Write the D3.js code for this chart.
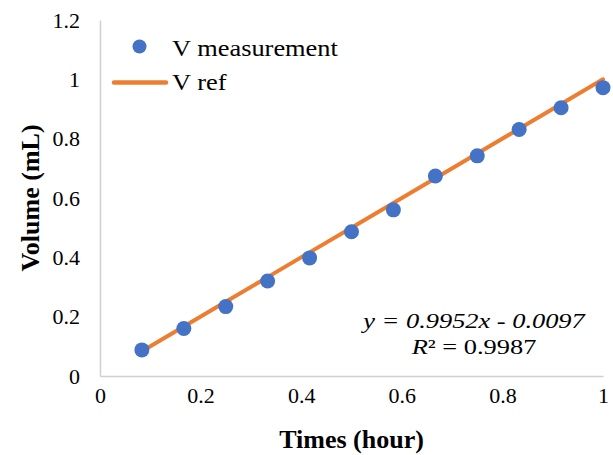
<!DOCTYPE html>
<html><head><meta charset="utf-8">
<script src="https://cdn.jsdelivr.net/npm/d3@7"></script>
<style>body{margin:0;background:#fff}svg{display:block}</style>
</head><body>
<svg id="c" width="613" height="455"></svg>
<script>
const times = [0.0833, 0.1667, 0.25, 0.3333, 0.4167, 0.5, 0.5833, 0.6667, 0.75, 0.8333, 0.9167, 1.0];
const vMeasurement = [0.088, 0.160, 0.234, 0.320, 0.398, 0.486, 0.560, 0.674, 0.742, 0.831, 0.904, 0.972];
const vRef = [0.0833, 0.1667, 0.25, 0.3333, 0.4167, 0.5, 0.5833, 0.6667, 0.75, 0.8333, 0.9167, 1.0];
const xTicks = [0, 0.2, 0.4, 0.6, 0.8, 1];
const yTicks = [0, 0.2, 0.4, 0.6, 0.8, 1, 1.2];
const seriesNames = ["V measurement", "V ref"];
const equationText = "y = 0.9952x - 0.0097";
const r2Value = "0.9987";

const font = "'Liberation Serif', serif";
const blue = "#4472C4", orange = "#ED7D31", axisCol = "#d0d0d0";
const svg = d3.select("#c");
const L = 100, R = 603, T = 20, B = 376;
const x = d3.scaleLinear().domain([0, 1]).range([L, R]);
const y = d3.scaleLinear().domain([0, 1.2]).range([B, T]);

// axes
const xa = svg.append("g").attr("transform", `translate(0,${B})`)
  .call(d3.axisBottom(x).tickValues(xTicks).tickSize(0).tickPadding(11.5).tickFormat(d => d3.format("~g")(d)));
const ya = svg.append("g").attr("transform", `translate(${L},0)`)
  .call(d3.axisLeft(y).tickValues(yTicks).tickSize(0).tickPadding(20).tickFormat(d => d3.format("~g")(d)));
[xa, ya].forEach(g => {
  g.attr("font-family", font).attr("font-size", 22);
  g.select(".domain").attr("stroke", axisCol).attr("stroke-width", 1.5);
  g.selectAll("text").attr("font-family", font).attr("font-size", 22).attr("fill", "#000");
});

// line
svg.append("path").datum(times.map((t, i) => [t, vRef[i]]))
  .attr("d", d3.line().x(d => x(d[0])).y(d => y(d[1])))
  .attr("fill", "none").attr("stroke", orange).attr("stroke-width", 4).attr("stroke-linecap", "round");

// points
svg.append("g").selectAll("circle").data(times.map((t, i) => [t, vMeasurement[i]]))
  .join("circle").attr("cx", d => x(d[0])).attr("cy", d => y(d[1])).attr("r", 7.5).attr("fill", blue);

function label(px, py, sx, size, anchor) {
  return svg.append("g").attr("transform", `translate(${px},${py}) scale(${sx},1)`)
    .append("text").attr("text-anchor", anchor).attr("font-family", font).attr("font-size", size).attr("fill", "#000");
}

// axis titles
label((L + R) / 2, 448, 1, 26, "middle").attr("font-weight", "bold").text("Times (hour)");
svg.append("text").attr("transform", `translate(39,${(T + B) / 2}) rotate(-90)`).attr("text-anchor", "middle")
  .attr("font-family", font).attr("font-size", 26).attr("font-weight", "bold").text("Volume (mL)");

// legend
svg.append("circle").attr("cx", 139.5).attr("cy", 46.5).attr("r", 7).attr("fill", blue);
label(172, 55.5, 1.1, 24, "start").text(seriesNames[0]);
svg.append("line").attr("x1", 114).attr("x2", 166).attr("y1", 82.5).attr("y2", 82.5)
  .attr("stroke", orange).attr("stroke-width", 4.5).attr("stroke-linecap", "round");
label(172, 90, 1.1, 24, "start").text(seriesNames[1]);

// trendline equation
label(474, 328, 1.2, 22, "middle").attr("font-style", "italic").text(equationText);
const r2 = label(474, 354, 1.2, 22, "middle");
r2.append("tspan").attr("font-style", "italic").text("R");
r2.append("tspan").text("² = " + r2Value);
</script>
</body></html>
